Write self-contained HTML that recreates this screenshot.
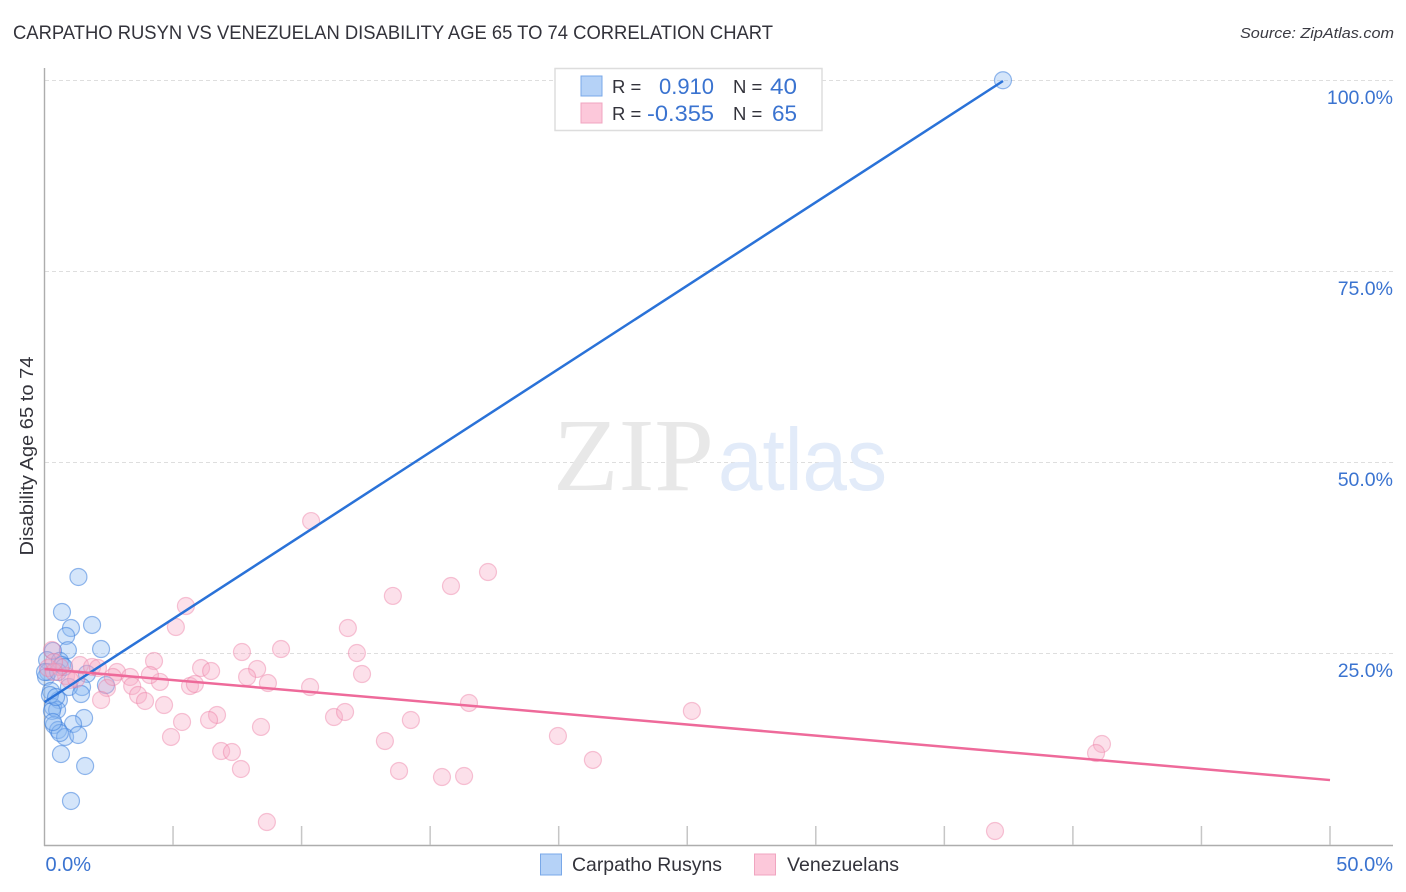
<!DOCTYPE html>
<html lang="en">
<head>
<meta charset="utf-8">
<title>Carpatho Rusyn vs Venezuelan Disability Age 65 to 74 Correlation Chart</title>
<style>
html,body{margin:0;padding:0;background:#fff;}
svg{display:block;font-family:"Liberation Sans",sans-serif;}
</style>
</head>
<body>
<svg id="chart" width="1406" height="892" viewBox="0 0 1406 892" xmlns="http://www.w3.org/2000/svg">
  <rect x="0" y="0" width="1406" height="892" fill="#ffffff"/>
  <text x="13" y="39" font-size="19" fill="#33333b" textLength="760" lengthAdjust="spacingAndGlyphs">CARPATHO RUSYN VS VENEZUELAN DISABILITY AGE 65 TO 74 CORRELATION CHART</text>
  <text x="1394" y="38" font-size="15" font-style="italic" fill="#3a3a42" text-anchor="end" textLength="154" lengthAdjust="spacingAndGlyphs">Source: ZipAtlas.com</text>
  <g id="grid"></g>
  <g>
    <text x="553" y="490" font-family="'Liberation Serif',serif" font-size="104" fill="#e8e8e8" textLength="161" lengthAdjust="spacingAndGlyphs">ZIP</text>
    <text x="718" y="490" font-size="88" fill="#e2ebf9" textLength="169" lengthAdjust="spacingAndGlyphs">atlas</text>
  </g>
  <g id="axes"></g>
  <g id="blue-points"></g>
  <g id="pink-points"></g>
  <g id="trends"></g>
  <g id="labels"></g>
  <text transform="translate(33,456) rotate(-90)" font-size="18.5" fill="#33333b" text-anchor="middle" textLength="199" lengthAdjust="spacingAndGlyphs">Disability Age 65 to 74</text>

  <g>
    <rect x="555" y="68.500" width="267" height="62" fill="#ffffff" stroke="#dddddd" stroke-width="1.500"/>
    <rect x="581" y="76" width="21" height="20" fill="#b5d2f7" stroke="#79a8e8" stroke-width="1"/>
    <rect x="581" y="103" width="21" height="20" fill="#fcc8da" stroke="#f0a5c0" stroke-width="1"/>
    <text x="612" y="93" font-size="18.500" fill="#33333b">R =</text>
    <text x="714" y="94" font-size="22" fill="#3a73d0" text-anchor="end" textLength="55" lengthAdjust="spacingAndGlyphs">0.910</text>
    <text x="733" y="93" font-size="18.500" fill="#33333b">N =</text>
    <text x="797" y="94" font-size="22" fill="#3a73d0" text-anchor="end" textLength="27" lengthAdjust="spacingAndGlyphs">40</text>
    <text x="612" y="120" font-size="18.500" fill="#33333b">R =</text>
    <text x="714" y="121" font-size="22" fill="#3a73d0" text-anchor="end" textLength="67" lengthAdjust="spacingAndGlyphs">-0.355</text>
    <text x="733" y="120" font-size="18.500" fill="#33333b">N =</text>
    <text x="797" y="121" font-size="22" fill="#3a73d0" text-anchor="end" textLength="25" lengthAdjust="spacingAndGlyphs">65</text>
  </g>

  <g>
    <rect x="540.500" y="854" width="21" height="21" fill="#b5d2f7" stroke="#79a8e8" stroke-width="1"/>
    <text x="572" y="871" font-size="19.500" fill="#33333b" textLength="150" lengthAdjust="spacingAndGlyphs">Carpatho Rusyns</text>
    <rect x="754.500" y="854" width="21" height="21" fill="#fcc8da" stroke="#f0a5c0" stroke-width="1"/>
    <text x="787" y="871" font-size="19.500" fill="#33333b" textLength="112" lengthAdjust="spacingAndGlyphs">Venezuelans</text>
  </g>
</svg>
<script>
// Chart data, in percent units
const xTickValues = [0, 5, 10, 15, 20, 25, 30, 35, 40, 45, 50];
const yGridValues = [25, 50, 75, 100];
const yTickLabels = ['25.0%', '50.0%', '75.0%', '100.0%'];
const xEndValues = [0, 50];
const xEndLabels = ['0.0%', '50.0%'];

const carpathoX = [1.32,.68,1.85,1.03,.84,.91,2.2,.33,.1,.6,.68,.14,1.65,.06,2.39,1.46,.95,1.42,.25,.56,.33,.49,.29,1.54,1.11,.37,.53,.8,1.31,.64,1.58,1.03,37.28,.21,.45,.02,.53,.76,.6,.33];
const carpathoY = [35.08,30.5,28.8,28.4,27.36,25.5,25.65,25.4,24.2,24.1,23.56,22.64,22.4,22,20.94,20.68,20.68,19.76,20.16,18.98,18.06,17.67,17.54,16.62,15.84,15.7,15.05,14.14,14.4,11.9,10.34,5.76,100.1,19.63,19.37,22.64,22.64,23.3,14.66,16.1];

const venezuelanX = [10.37,17.25,15.81,13.55,5.5,5.11,11.8,7.68,9.2,12.15,.29,4.26,6.09,6.48,8.27,12.35,7.88,10.33,8.69,5.66,5.85,4.49,4.1,2.82,3.33,3.41,3.64,3.91,4.65,2.43,2.2,.84,1.23,1.38,1.85,2.08,2.66,.6,.14,.37,16.51,25.18,11.26,11.69,14.25,6.71,6.4,5.35,4.92,8.42,13.24,6.87,7.29,7.64,13.79,15.46,16.32,19.97,21.33,41.13,40.9,8.65,36.97,.37,.99];
const venezuelanY = [42.4,35.73,33.9,32.6,31.28,28.53,28.4,25.26,25.65,25.13,25.52,24.08,23.17,22.77,23.04,22.38,21.99,20.68,21.2,20.81,21.07,21.34,22.25,22.64,21.99,20.81,19.63,18.85,18.32,20.55,18.98,22.12,21.73,23.56,23.3,23.17,21.99,23.3,23.17,22.64,18.59,17.54,16.75,17.41,16.36,17.02,16.36,16.1,14.14,15.45,13.61,12.3,12.17,9.95,9.69,8.9,9.03,14.27,11.13,13.22,12.04,3.01,1.83,23.95,21.6];

const carpathoTrendX = [0, 37.28];
const carpathoTrendY = [18.7, 100];
const venezuelanTrendX = [0, 50];
const venezuelanTrendY = [23.04, 8.5];

// Axis functions
function xScale(v) { return 44.5 + v * 25.71; }
function yScale(v) { return 845 - v * 7.64; }

const NS = 'http://www.w3.org/2000/svg';
function make(tag, parentId, props) {
  const el = document.createElementNS(NS, tag);
  for (const k in props) el.setAttribute(k, props[k]);
  document.getElementById(parentId).appendChild(el);
  return el;
}

yGridValues.forEach(function (v) {
  const gy = Math.floor(yScale(v)) - 0.5;
  const el = make('line', 'grid', {x1: 45, x2: 1393, y1: gy, y2: gy, stroke: '#dedede', 'stroke-width': 1, 'stroke-dasharray': '4 3'});
  
  
});

const yAxisLine = make('line', 'axes', {x1: 44.5, x2: 44.5, y1: 68, y2: 846, stroke: '#adadad', 'stroke-width': 1.4});


const xAxisLine = make('line', 'axes', {x1: 44, x2: 1393, y1: 845.5, y2: 845.5, stroke: '#adadad', 'stroke-width': 1.4});


xTickValues.slice(1).forEach(function (v) {
  const el = make('line', 'axes', {x1: xScale(v), x2: xScale(v), y1: 826, y2: 845, stroke: '#c6c6c6', 'stroke-width': 1.5});
  
  
});

carpathoX.forEach(function (v, i) {
  const el = make('circle', 'blue-points', {cx: xScale(v), cy: yScale(carpathoY[i]), r: 8.5, fill: 'rgba(142,186,243,0.38)', stroke: 'rgba(62,128,220,0.55)', 'stroke-width': 1.2});
  
  
});
venezuelanX.forEach(function (v, i) {
  const el = make('circle', 'pink-points', {cx: xScale(v), cy: yScale(venezuelanY[i]), r: 8.5, fill: 'rgba(248,170,196,0.36)', stroke: 'rgba(236,120,160,0.42)', 'stroke-width': 1.2});
  
  
});

const blueTrend = make('line', 'trends', {x1: xScale(carpathoTrendX[0]), y1: yScale(carpathoTrendY[0]), x2: xScale(carpathoTrendX[1]), y2: yScale(carpathoTrendY[1]), stroke: '#2a72d8', 'stroke-width': 2.5});


const pinkTrend = make('line', 'trends', {x1: xScale(venezuelanTrendX[0]), y1: yScale(venezuelanTrendY[0]), x2: xScale(venezuelanTrendX[1]), y2: yScale(venezuelanTrendY[1]), stroke: '#ee6a9a', 'stroke-width': 2.5});



yGridValues.forEach(function (v, i) {
  const el = make('text', 'labels', {x: 1393, y: yScale(v) + 23, 'font-size': 19.5, fill: '#3a73d0', 'text-anchor': 'end'});
  el.textContent = yTickLabels[i];
  
  
});
const xLabelAnchors = ['start', 'end'];
const xLabelOffsets = [1, 63];
xEndValues.forEach(function (v, i) {
  const el = make('text', 'labels', {x: xScale(v) + xLabelOffsets[i], y: 871, 'font-size': 20, fill: '#3a73d0', 'text-anchor': xLabelAnchors[i]});
  el.textContent = xEndLabels[i];
  
  
});
</script>
</body>
</html>
